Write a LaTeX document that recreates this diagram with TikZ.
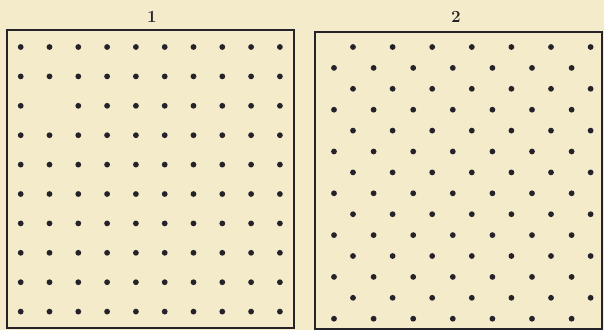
\documentclass[tikz,border=0pt]{standalone}
\usepackage{xcolor}
\usepackage{tikz}
\usetikzlibrary{positioning}
\definecolor{paper}{RGB}{244,235,203}
\definecolor{ink}{RGB}{38,34,42}
\tikzset{
  panelbox/.style={draw=ink, line width=2pt},
  dotmark/.style={fill=ink},
  panellabel/.style={font=\fontsize{17}{19}\selectfont\bfseries, text=ink, inner sep=0pt}
}

\begin{document}
\begin{tikzpicture}[x=1pt, y=-1pt,
    panelbox/.style={draw=ink, line width=2pt},
    dotmark/.style={fill=ink}
  ]
  % paper
  \fill[paper] (0,0) rectangle (604,330);

  % Square order
  \node[panellabel] (L1) at (152,17) {1};
  \draw[panelbox] (7,30) rectangle (294,328);
  \foreach \i in {0,...,9}{
    \foreach \j in {0,...,9}{
      \ifnum\i=1 \ifnum\j=2 \else
        \fill[dotmark] (20.7+28.8*\i, 47+29.4*\j) circle (2.9);
      \fi\else
        \fill[dotmark] (20.7+28.8*\i, 47+29.4*\j) circle (2.9);
      \fi
    }
  }

  % Staggered order
  \node[panellabel] (L2) at (456,17) {2};
  \draw[panelbox] (315,32) rectangle (602,329);
  \foreach \j in {0,...,13}{
    \pgfmathsetmacro{\xs}{isodd(\j) ? 334 : 353}
    \foreach \i in {0,...,6}{
      \fill[dotmark] (\xs+39.6*\i, 47+20.9*\j) circle (2.9);
    }
  }
\end{tikzpicture}
\end{document}
